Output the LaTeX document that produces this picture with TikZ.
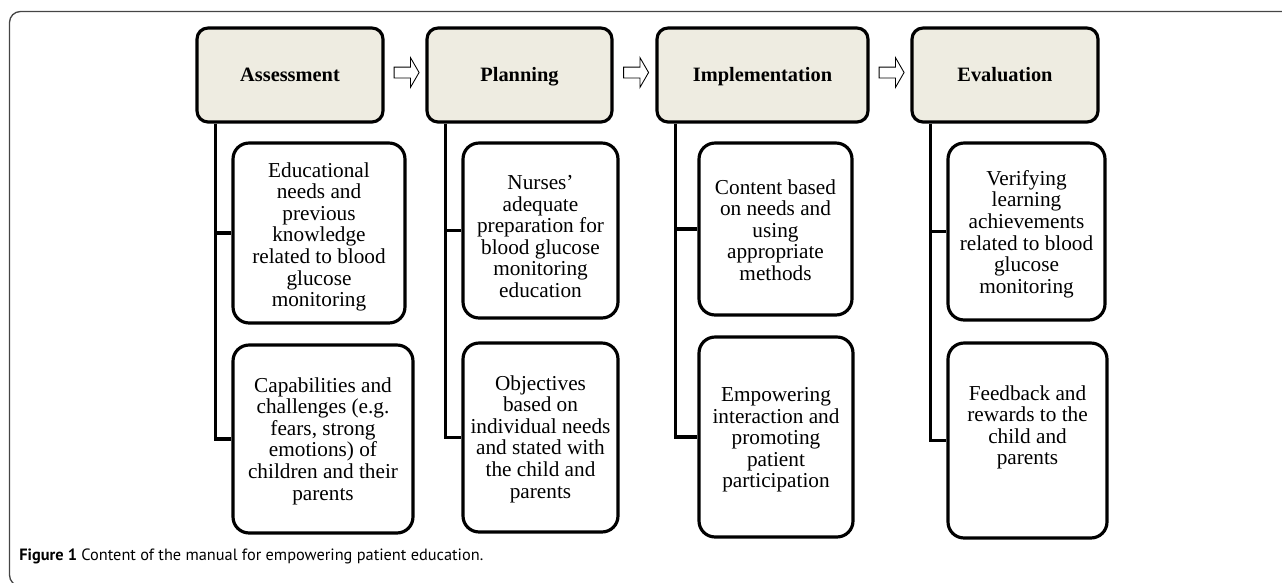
\documentclass[tikz,border=0pt]{standalone}
\usepackage{fontspec}
\setmainfont{Liberation Serif}
\newfontfamily\capsans{PT Sans}
\usetikzlibrary{shapes.arrows,calc}

\definecolor{headfill}{HTML}{EEECE1}
\definecolor{framegray}{HTML}{454545}

\tikzset{
  head/.style={draw,line width=1.8pt,rounded corners=0.22cm,fill=headfill,
    minimum height=1.88cm,text height=0.7em,text depth=0pt,
    font=\fontsize{11.6}{13}\selectfont\bfseries},
  sub/.style={draw,line width=1.8pt,rounded corners=0.32cm},
  subtext/.style={align=center,inner sep=0pt,anchor=north,
    font=\fontsize{12.1}{12.3}\selectfont},
  link/.style={line width=1.8pt},
  flow/.style={single arrow,draw,line width=0.5pt,fill=white,inner xsep=0pt,
    inner ysep=0.1cm,minimum height=0.5cm,single arrow head extend=0.19cm,
    single arrow tip angle=120},
}

\begin{document}
\begin{tikzpicture}[x=0.02cm,y=-0.02cm]
\useasboundingbox (0,0) rectangle (1282,582);
\clip (0,0) rectangle (1282,582);

% outer frame, only its top left corner is inside the page
\draw[framegray,line width=0.75pt,rounded corners=0.22cm] (9.5,11.5) rectangle (1300,586);

% the four stages
\node[head,minimum width=3.72cm] (a0) at (290,75) {Assessment};
\node[head,minimum width=3.70cm] (p0) at (519.5,75) {Planning};
\node[head,minimum width=4.22cm] (i0) at (762.5,75) {Implementation};
\node[head,minimum width=3.72cm] (e0) at (1005,75) {Evaluation};

\foreach \from/\to in {a0/p0, p0/i0, i0/e0}{
    \node[flow,yshift=0.05cm] (arr-\from) at ($(\from.east)!0.5!(\to.west)$) {};
}

% boxes under each stage
\node[sub,minimum width=3.44cm,minimum height=3.60cm] (a1) at (319,233) {};
\node[sub,minimum width=3.60cm,minimum height=3.76cm] (a2) at (323,439) {};
\node[sub,minimum width=3.10cm,minimum height=3.50cm] (p1) at (540.5,230.5) {};
\node[sub,minimum width=3.10cm,minimum height=3.78cm] (p2) at (540.5,437.5) {};
\node[sub,minimum width=3.06cm,minimum height=3.44cm] (i1) at (775.5,229) {};
\node[sub,minimum width=3.08cm,minimum height=4.00cm] (i2) at (776,437) {};
\node[sub,minimum width=3.14cm,minimum height=3.54cm] (e1) at (1026.5,231.5) {};
\node[sub,minimum width=3.18cm,minimum height=3.90cm] (e2) at (1027.5,440.5) {};

\node[subtext] (a1t) at (a1.north |- 0,162) {Educational\\needs and\\previous\\knowledge\\related to blood\\glucose\\monitoring};
\node[subtext] (a2t) at (a2.north |- 0,377) {Capabilities and\\challenges (e.g.\\fears, strong\\emotions) of\\children and their\\parents};
\node[subtext] (p1t) at (p1.north |- 0,175) {Nurses’\\adequate\\preparation for\\blood glucose\\monitoring\\education};
\node[subtext] (p2t) at (p2.north |- 0,375) {Objectives\\based on\\individual needs\\and stated with\\the child and\\parents};
\node[subtext] (i1t) at (i1.north |- 0,179) {Content based\\on needs and\\using\\appropriate\\methods};
\node[subtext] (i2t) at (i2.north |- 0,387) {Empowering\\interaction and\\promoting\\patient\\participation};
\node[subtext] (e1t) at (e1.north |- 0,170) {Verifying\\learning\\achievements\\related to blood\\glucose\\monitoring};
\node[subtext] (e2t) at (e2.north |- 0,385) {Feedback and\\rewards to the\\child and\\parents};

% trunk lines from each stage to its two boxes
\foreach \s in {a,p,i,e}{
    \draw[link] ([xshift=0.4cm]\s0.south west) |- (\s2.west);
    \draw[link] ([xshift=0.4cm]\s0.south west |- \s1.west) -- (\s1.west);
}

\node[anchor=west,inner sep=0pt,font=\capsans\fontsize{9.3}{11}\selectfont] (caption) at (19,556)
    {\textbf{Figure 1} Content of the manual for empowering patient education.};
\end{tikzpicture}
\end{document}
